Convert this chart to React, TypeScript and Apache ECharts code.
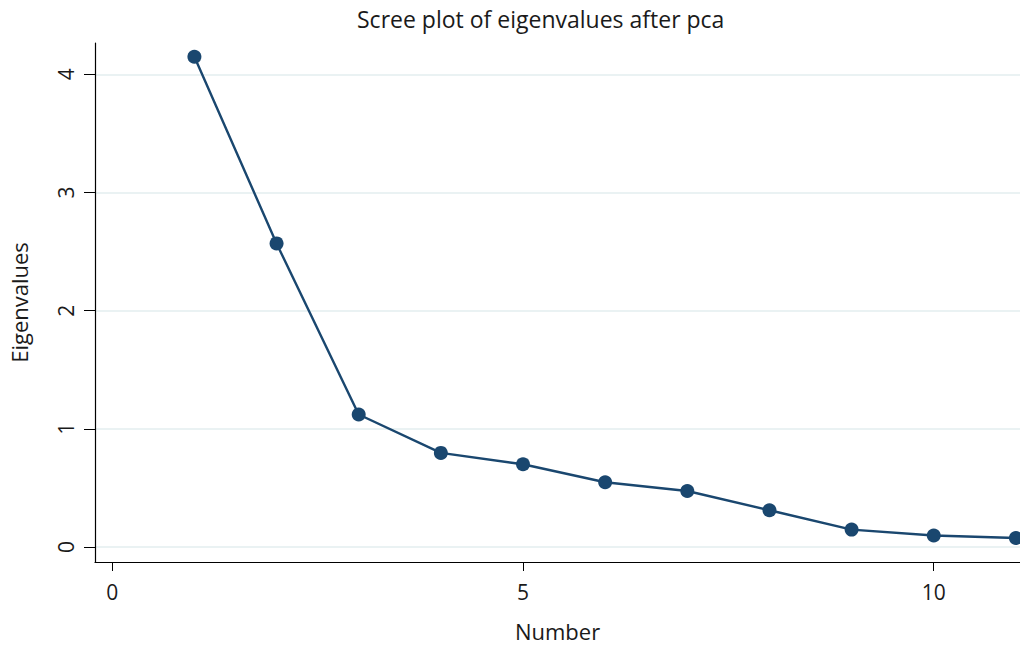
import React, { useEffect, useRef } from "react";
import * as echarts from "echarts";

const numbers = [1, 2, 3, 4, 5, 6, 7, 8, 9, 10, 11];
const eigenvalues = [4.149, 2.569, 1.121, 0.796, 0.7, 0.548, 0.474, 0.311, 0.147, 0.097, 0.076];
const xTicks = [0, 5, 10];
const yTicks = [0, 1, 2, 3, 4];
const titleText = "Scree plot of eigenvalues after pca";
const xName = "Number";
const yName = "Eigenvalues";

const FONT = "'Open Sans', 'Noto Sans', sans-serif";
const NAVY = "#1a476f";
const TXT = "#1a1a1a";
const FS = 21;

export default function App() {
  const ref = useRef<HTMLDivElement>(null);
  useEffect(() => {
    if (!ref.current) return;
    const chart = echarts.init(ref.current, undefined, { renderer: "svg" });
    chart.setOption({
      animation: false,
      backgroundColor: "#ffffff",
      title: {
        text: titleText,
        left: 352,
        top: 2,
        textStyle: { fontFamily: FONT, fontSize: 23, fontWeight: "normal", color: TXT },
      },
      grid: { left: 95, right: 0, top: 43, bottom: 84, containLabel: false, outerBoundsMode: "none" },
      xAxis: {
        type: "value",
        min: -0.21,
        max: 11.05,
        name: xName,
        nameLocation: "middle",
        nameGap: 58,
        nameTextStyle: { fontFamily: FONT, fontSize: 22, color: TXT },
        axisLine: { onZero: false, lineStyle: { color: "#000", width: 1.2 } },
        axisTick: { show: true, length: 9, lineStyle: { color: "#000" }, customValues: xTicks },
        axisLabel: {
          fontFamily: FONT,
          fontSize: FS,
          color: TXT,
          margin: 19,
          customValues: xTicks,
        },
        splitLine: { show: false },
      },
      yAxis: {
        type: "value",
        min: -0.127,
        max: 4.265,
        name: yName,
        nameLocation: "middle",
        nameGap: 65,
        nameRotate: 90,
        nameTextStyle: { fontFamily: FONT, fontSize: 22, color: TXT },
        axisLine: { show: true, onZero: false, lineStyle: { color: "#000", width: 1.2 } },
        axisTick: { show: true, length: 11, lineStyle: { color: "#000" }, customValues: yTicks },
        axisLabel: {
          fontFamily: FONT,
          fontSize: FS,
          color: TXT,
          rotate: 90,
          margin: 19,
          customValues: yTicks,
        },
        splitLine: {
          show: true,
          lineStyle: { color: "#eaf2f3", width: 2 },
        },
      },
      series: [
        {
          type: "line",
          data: numbers.map((n, i) => [n, eigenvalues[i]]),
          symbol: "circle",
          symbolSize: 14,
          itemStyle: { color: NAVY },
          lineStyle: { color: NAVY, width: 2.4 },
          clip: true,
        },
      ],
    });
    return () => chart.dispose();
  }, []);
  return <div ref={ref} style={{ width: 1020, height: 646, position: "absolute", left: 0, top: 0 }} />;
}
